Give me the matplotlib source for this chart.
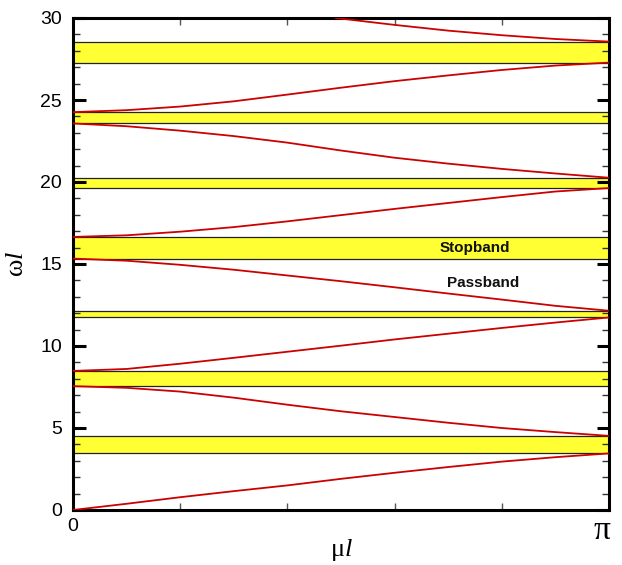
import numpy as np
import matplotlib
matplotlib.use('Agg')
import matplotlib.pyplot as plt
from matplotlib.ticker import MultipleLocator, FixedLocator

# wavenumber samples, in units of pi
mu_frac = [0.0, 0.1, 0.2, 0.3, 0.4, 0.5, 0.6, 0.7, 0.8, 0.9, 1.0]

# dispersion branches
branch1 = [0.0, 0.38, 0.78, 1.15, 1.5, 1.9, 2.27, 2.62, 2.95, 3.22, 3.45]
branch2 = [7.55, 7.45, 7.22, 6.85, 6.42, 6.02, 5.67, 5.32, 5.0, 4.75, 4.52]
branch3 = [8.48, 8.6, 8.92, 9.28, 9.65, 10.02, 10.4, 10.75, 11.1, 11.43, 11.74]
branch4 = [15.33, 15.2, 14.95, 14.65, 14.3, 13.95, 13.58, 13.2, 12.83, 12.45, 12.15]
branch5 = [16.65, 16.75, 16.97, 17.25, 17.6, 17.98, 18.36, 18.72, 19.08, 19.42, 19.63]
branch6 = [23.57, 23.4, 23.13, 22.8, 22.4, 21.92, 21.48, 21.12, 20.8, 20.52, 20.26]
branch7 = [24.26, 24.38, 24.6, 24.92, 25.33, 25.75, 26.15, 26.5, 26.83, 27.1, 27.28]
branch8_frac = [0.49, 0.6, 0.7, 0.8, 0.9, 1.0]
branch8 = [30.0, 29.58, 29.23, 28.95, 28.72, 28.56]

# stopbands (lower, upper)
stop_lo = [3.46, 7.58, 11.75, 15.33, 19.63, 23.58, 27.28]
stop_hi = [4.51, 8.45, 12.15, 16.63, 20.26, 24.25, 28.56]

plt.rcParams['font.family'] = ['Liberation Sans', 'DejaVu Sans']
plt.rcParams['mathtext.fontset'] = 'custom'
plt.rcParams['mathtext.rm'] = 'Liberation Serif'
plt.rcParams['mathtext.it'] = 'Liberation Serif:italic'

fig = plt.figure(figsize=(6.22, 5.65), dpi=100)
ax = fig.add_axes([73 / 622, 1 - 510 / 565, 536 / 622, 492 / 565])

for lo, hi in zip(stop_lo, stop_hi):
    ax.axhspan(lo, hi, facecolor='#ffff33', edgecolor='#222222', linewidth=0.9, zorder=1)

mu = np.array(mu_frac) * np.pi
for br in [branch1, branch2, branch3, branch4, branch5, branch6, branch7]:
    ax.plot(mu, br, color='#cc0000', linewidth=1.3, zorder=3)
ax.plot(np.array(branch8_frac) * np.pi, branch8, color='#cc0000', linewidth=1.3, zorder=3)

ax.text(0.75 * np.pi, 15.95, 'Stopband', ha='center', va='center',
        fontsize=11, fontweight='bold', color='#111111', zorder=4)
ax.text(0.765 * np.pi, 13.85, 'Passband', ha='center', va='center',
        fontsize=11, fontweight='bold', color='#111111', zorder=4)

ax.set_xlim(0, np.pi)
ax.set_ylim(0, 30)

ax.yaxis.set_major_locator(MultipleLocator(5))
ax.yaxis.set_minor_locator(MultipleLocator(1))
ax.xaxis.set_major_locator(FixedLocator([0, np.pi]))
ax.xaxis.set_minor_locator(FixedLocator([np.pi * k / 5 for k in range(1, 5)]))
ax.set_xticklabels(['0', ''])

ax.tick_params(axis='y', which='major', direction='in', length=9, width=2.2,
               labelsize=14, pad=8, left=True, right=True)
ax.tick_params(axis='y', which='minor', direction='in', length=5, width=1.0,
               left=True, right=True, color='#333333')
ax.tick_params(axis='x', which='major', direction='in', length=0,
               labelsize=14, pad=6)
ax.tick_params(axis='x', which='minor', direction='in', length=5, width=1.0,
               bottom=True, top=True, color='#555555')

for sp in ax.spines.values():
    sp.set_linewidth(2.2)

ax.text(0.988, -0.042, r'$\mathrm{\pi}$', transform=ax.transAxes, ha='center',
        va='center', fontsize=24)

ax.set_xlabel(r'$\mathrm{\mu}\mathit{l}$', fontsize=19, labelpad=1)
ax.set_ylabel(r'$\mathrm{\omega}\mathit{l}$', fontsize=19, labelpad=9)

fig.savefig('out.png', dpi=100)
